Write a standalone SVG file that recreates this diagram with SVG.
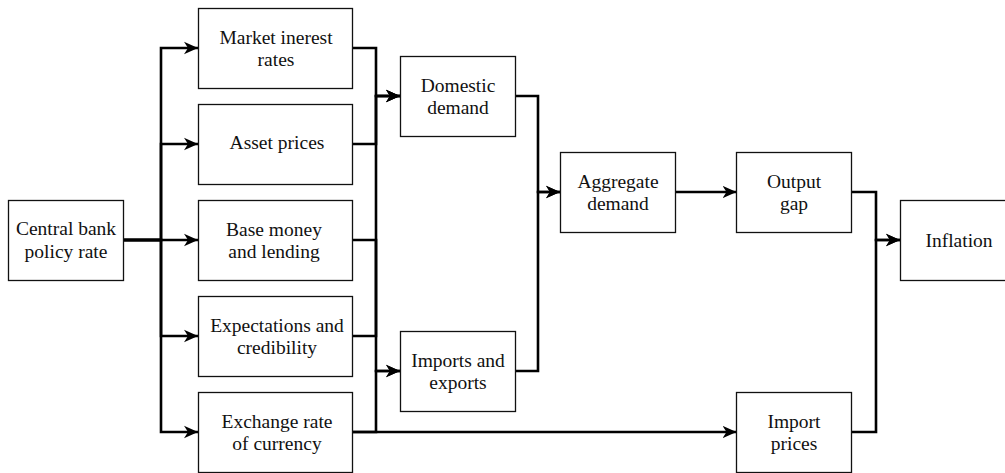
<svg xmlns="http://www.w3.org/2000/svg" width="1005" height="473" viewBox="0 0 1005 473">
<defs>
<style>
.box{fill:#fff;stroke:#111;stroke-width:1.3}
.lbl{font-family:"Liberation Serif","Times New Roman",serif;font-size:19.5px;fill:#111;text-anchor:middle}
.edge{fill:none;stroke:#000;stroke-width:2.6;stroke-linejoin:miter}
.arr{marker-end:url(#ah)}
</style>
<marker id="ah" markerUnits="userSpaceOnUse" markerWidth="16" markerHeight="14" refX="14" refY="7" orient="auto">
<path d="M0,0.8 L14,7 L0,13.2 L4,7 Z" fill="#000"/>
</marker>
</defs>
<g id="connectors">
<path class="edge arr" d="M123,240 H161 V48 H198"/>
<path class="edge arr" d="M123,240 H161 V144 H198"/>
<path class="edge arr" d="M123,240 H198"/>
<path class="edge arr" d="M123,240 H161 V336 H198"/>
<path class="edge arr" d="M123,240 H161 V432 H198"/>
<path class="edge arr" d="M352.5,48 H376 V96 H400"/>
<path class="edge arr" d="M352.5,144 H376 V96 H400"/>
<path class="edge arr" d="M352.5,336 H376 V96 H400"/>
<path class="edge arr" d="M352.5,240 H376 V371 H400"/>
<path class="edge arr" d="M352.5,432 H376 V371 H400"/>
<path class="edge arr" d="M352.5,432 H736.5"/>
<path class="edge arr" d="M515.5,96 H538 V192 H560"/>
<path class="edge arr" d="M515.5,371 H538 V192 H560"/>
<path class="edge arr" d="M675.5,192 H736.5"/>
<path class="edge arr" d="M851.5,192 H876 V240 H900"/>
<path class="edge arr" d="M851.5,432 H876 V240 H900"/>
</g>
<g id="central-bank">
<rect class="box" x="8.5" y="200.5" width="115" height="80"/>
<text class="lbl" x="66" y="235">Central bank</text>
<text class="lbl" x="66" y="258">policy rate</text>
</g>
<g id="market-interest">
<rect class="box" x="198.5" y="8.5" width="154" height="80"/>
<text class="lbl" x="276" y="44">Market inerest</text>
<text class="lbl" x="276" y="66">rates</text>
</g>
<g id="asset-prices">
<rect class="box" x="198.5" y="104.5" width="154" height="80"/>
<text class="lbl" x="277" y="149">Asset prices</text>
</g>
<g id="base-money">
<rect class="box" x="198.5" y="200.5" width="154" height="80"/>
<text class="lbl" x="274" y="236">Base money</text>
<text class="lbl" x="274" y="258">and lending</text>
</g>
<g id="expectations">
<rect class="box" x="198.5" y="296.5" width="154" height="80"/>
<text class="lbl" x="277" y="332">Expectations and</text>
<text class="lbl" x="277" y="354">credibility</text>
</g>
<g id="exchange-rate">
<rect class="box" x="198.5" y="392.5" width="154" height="80"/>
<text class="lbl" x="277" y="428">Exchange rate</text>
<text class="lbl" x="277" y="450">of currency</text>
</g>
<g id="domestic-demand">
<rect class="box" x="400.5" y="56.5" width="115" height="80"/>
<text class="lbl" x="458" y="92">Domestic</text>
<text class="lbl" x="458" y="114">demand</text>
</g>
<g id="imports-exports">
<rect class="box" x="400.5" y="331.5" width="115" height="80"/>
<text class="lbl" x="458" y="367">Imports and</text>
<text class="lbl" x="458" y="389">exports</text>
</g>
<g id="aggregate-demand">
<rect class="box" x="560.5" y="152.5" width="115" height="80"/>
<text class="lbl" x="618" y="188">Aggregate</text>
<text class="lbl" x="618" y="210">demand</text>
</g>
<g id="output-gap">
<rect class="box" x="736.5" y="152.5" width="115" height="80"/>
<text class="lbl" x="794" y="188">Output</text>
<text class="lbl" x="794" y="210">gap</text>
</g>
<g id="import-prices">
<rect class="box" x="736.5" y="392.5" width="115" height="80"/>
<text class="lbl" x="794" y="428">Import</text>
<text class="lbl" x="794" y="450">prices</text>
</g>
<g id="inflation">
<rect class="box" x="900.5" y="200.5" width="115" height="80"/>
<text class="lbl" x="959" y="247">Inflation</text>
</g>
</svg>
